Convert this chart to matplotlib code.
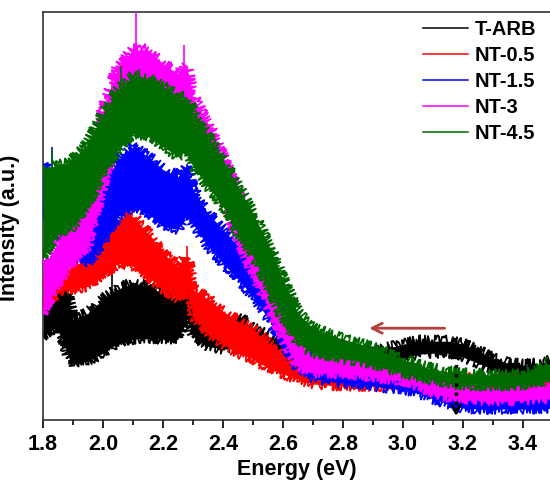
import numpy as np
import matplotlib
matplotlib.use('Agg')
from matplotlib import pyplot as plt
from matplotlib.ticker import MultipleLocator

plt.rcParams['font.family'] = ['Liberation Sans', 'DejaVu Sans']
plt.rcParams['font.weight'] = 'bold'

# energy grid (eV)
energy = [1.80, 1.85, 1.88, 1.90, 1.95, 2.00, 2.05, 2.10, 2.15, 2.20, 2.25, 2.28,
          2.30, 2.35, 2.40, 2.45, 2.50, 2.55, 2.60, 2.65, 2.70, 2.75, 2.80, 2.85,
          2.90, 2.95, 3.00, 3.05, 3.10, 3.15, 3.20, 3.25, 3.30, 3.35, 3.40, 3.45, 3.49]

# upper / lower envelope of each noisy spectrum (a.u.)
tarb_hi = [107, 137, 127, 101, 107, 121, 131, 137, 134, 127, 121, 131,
           114, 101, 96, 104, 92, 84, 74, 64, 59, 57, 57, 59,
           67, 72, 76, 79, 79, 79, 76, 69, 62, 57, 55, 56, 59]
tarb_lo = [84, 94, 67, 56, 59, 67, 77, 81, 82, 81, 81, 101,
           84, 74, 71, 72, 69, 64, 59, 54, 51, 49, 49, 51,
           56, 59, 62, 66, 67, 67, 63, 57, 51, 47, 44, 45, 47]

nt05_hi = [134, 144, 149, 154, 161, 177, 201, 204, 187, 167, 154, 164,
           131, 121, 109, 99, 91, 77, 67, 57, 51, 49, 48, 47,
           47, 46, 45, 44, 43, 42, 41, 41, 40, 40, 41, 44, 49]
nt05_lo = [114, 127, 131, 131, 134, 144, 157, 154, 144, 131, 121, 131,
           104, 87, 76, 67, 61, 52, 46, 41, 36, 35, 34, 34,
           34, 34, 33, 33, 33, 32, 31, 31, 31, 31, 31, 31, 34]

nt15_hi = [257, 234, 214, 204, 207, 234, 261, 274, 264, 251, 244, 254,
           231, 207, 191, 174, 157, 137, 111, 77, 59, 54, 51, 50,
           48, 46, 42, 37, 31, 27, 24, 22, 22, 22, 21, 22, 23]
nt15_lo = [214, 187, 171, 164, 157, 177, 204, 214, 207, 194, 191, 207,
           197, 174, 157, 141, 124, 102, 77, 52, 42, 39, 37, 36,
           34, 32, 31, 27, 21, 16, 12, 11, 11, 11, 11, 11, 12]

nt3_hi = [154, 177, 191, 201, 234, 311, 354, 371, 371, 357, 347, 354,
          324, 297, 264, 227, 191, 154, 114, 74, 64, 62, 61, 59,
          57, 54, 51, 46, 41, 37, 34, 33, 32, 32, 31, 32, 33]
nt3_lo = [107, 137, 151, 157, 174, 234, 281, 294, 294, 287, 277, 274,
          264, 244, 221, 181, 147, 114, 81, 54, 47, 47, 46, 45,
          43, 41, 39, 34, 27, 23, 21, 20, 19, 19, 20, 21, 21]

nt45_hi = [247, 257, 257, 261, 277, 307, 331, 344, 342, 334, 324, 324,
           307, 284, 261, 234, 207, 177, 141, 107, 92, 86, 81, 77,
           72, 66, 61, 55, 51, 48, 47, 46, 45, 45, 46, 50, 57]
nt45_lo = [164, 187, 191, 194, 214, 247, 271, 287, 284, 274, 264, 271,
           254, 234, 214, 187, 164, 134, 101, 77, 67, 64, 61, 59,
           56, 51, 47, 43, 40, 37, 35, 34, 34, 34, 35, 37, 41]

# narrow spikes: energy, peak value
tarb_spk_e, tarb_spk_v = [1.86, 2.03, 2.28], [144, 167, 134]
nt05_spk_e, nt05_spk_v = [2.03, 2.28], [211, 174]
nt15_spk_e, nt15_spk_v = [1.83, 2.28], [274, 257]
nt3_spk_e, nt3_spk_v = [2.03, 2.11, 2.27], [352, 409, 376]
nt45_spk_e, nt45_spk_v = [1.83, 2.06, 2.12], [272, 355, 352]

labels = ['T-ARB', 'NT-0.5', 'NT-1.5', 'NT-3', 'NT-4.5']
colors = ['black', '#ff0000', '#0000ff', '#ff00ff', '#006a00']

series = [
    (tarb_hi, tarb_lo, tarb_spk_e, tarb_spk_v),
    (nt05_hi, nt05_lo, nt05_spk_e, nt05_spk_v),
    (nt15_hi, nt15_lo, nt15_spk_e, nt15_spk_v),
    (nt3_hi, nt3_lo, nt3_spk_e, nt3_spk_v),
    (nt45_hi, nt45_lo, nt45_spk_e, nt45_spk_v),
]
order = [1, 0, 2, 3, 4]

fig = plt.figure(figsize=(5.5, 4.87), dpi=100)
ax = fig.add_axes([43 / 550, 67 / 487, 507 / 550, 408 / 487])

e = np.array(energy)
for k in order:
    hi, lo, se, sv = series[k]
    c = colors[k]
    ax.fill_between(e, lo, hi, color=c, lw=0, zorder=2 + k)
    # noisy-looking edges (drawing style only)
    for edge, sc in ((hi, 6), (lo, 5)):
        ln, = ax.plot(e, edge, color=c, lw=1.3, zorder=2 + k)
        ln.set_sketch_params(scale=sc, length=1.2, randomness=3)
    base = np.interp(se, e, hi)
    ax.vlines(se, base - 10, sv, color=c, lw=1.2, zorder=2 + k)

for k in range(5):
    ax.plot([], [], color=colors[k], lw=1.1, label=labels[k])

# shift arrow and dotted marker
ax.annotate('', xy=(2.878, 92), xytext=(3.148, 92),
            arrowprops=dict(arrowstyle='->', color='#b5403c', lw=2,
                            mutation_scale=18), zorder=10)
ax.plot([3.177, 3.177], [74, 10], color='black', ls=':', lw=2.5, zorder=10)
ax.annotate('', xy=(3.177, 1), xytext=(3.177, 14),
            arrowprops=dict(arrowstyle='->', color='black', lw=2,
                            mutation_scale=14), zorder=10)

ax.set_xlim(1.8, 3.49)
ax.set_ylim(0, 409)
ax.xaxis.set_major_locator(MultipleLocator(0.2))
ax.xaxis.set_minor_locator(MultipleLocator(0.1))
ax.set_yticks([])
ax.tick_params(axis='x', which='major', direction='out', length=6, width=1.2,
               labelsize=15.5, pad=4)
ax.tick_params(axis='x', which='minor', direction='out', length=3.5, width=1.2)
ax.spines['right'].set_visible(False)
for s in ['left', 'top', 'bottom']:
    ax.spines[s].set_linewidth(1.2)
    ax.spines[s].set_color('#333333')

ax.set_xlabel('Energy (eV)', fontsize=15.5, fontweight='bold', labelpad=3)
ax.set_ylabel('Intensity (a.u.)', fontsize=15.5, fontweight='bold', labelpad=8)
ax.yaxis.set_label_coords(-0.045, 0.47)

fig.legend(loc='upper right', bbox_to_anchor=(536 / 550, 467 / 487),
           frameon=False, prop={'weight': 'bold', 'size': 14.5},
           handlelength=2.25, handletextpad=0.3, labelspacing=0.35,
           borderpad=0, borderaxespad=0)

fig.savefig('out.png', dpi=100)
